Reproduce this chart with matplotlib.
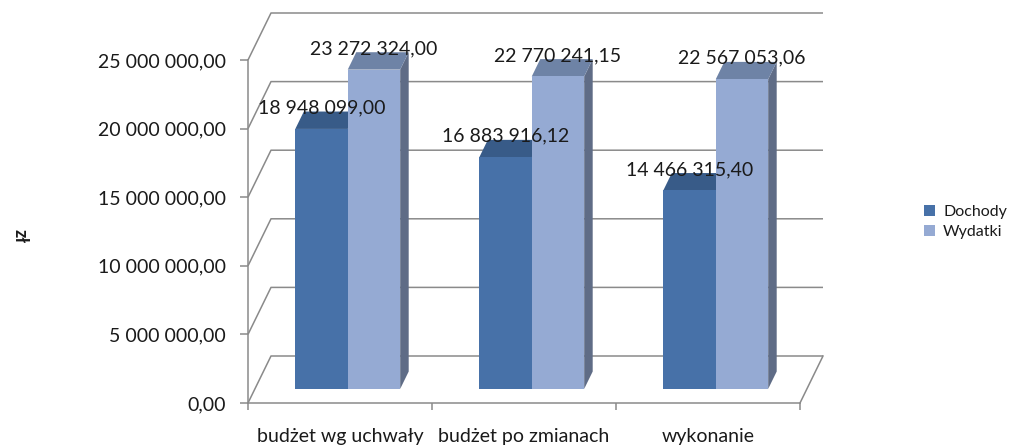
import matplotlib
matplotlib.use("Agg")
import matplotlib.pyplot as plt
from matplotlib.patches import Polygon, Patch

plt.rcParams['font.family'] = ['Lato', 'DejaVu Sans']

categories = ["budżet wg uchwały", "budżet po zmianach", "wykonanie"]
dochody = [18948099.00, 16883916.12, 14466315.40]
wydatki = [23272324.00, 22770241.15, 22567053.06]
series_names = ["Dochody", "Wydatki"]
yticks = [0, 5e6, 10e6, 15e6, 20e6, 25e6]
ytick_labels = ["0,00", "5 000 000,00", "10 000 000,00", "15 000 000,00",
                "20 000 000,00", "25 000 000,00"]
data_labels_d = ["18 948 099,00", "16 883 916,12", "14 466 315,40"]
data_labels_w = ["23 272 324,00", "22 770 241,15", "22 567 053,06"]

W, H = 1016, 445
fig = plt.figure(figsize=(W / 100, H / 100), dpi=100)
ax = fig.add_axes([248 / W, (H - 403) / H, (800 - 248) / W, (403 - 60) / H])
ax.set_xlim(0, 3)
ax.set_ylim(0, 25e6)

px_x = (800 - 248) / 3.0          # pixels per category unit
px_y = (403 - 60) / 25e6          # pixels per value unit
DX = 23 / px_x                    # full depth shift in x (data)
DY = 47 / px_y                    # full depth shift in y (data)

grid_c = "#8a8a8a"
lw = 1.1
txt_c = "#1a1a1a"
fs = 14

# walls / gridlines
for v in yticks:
    ax.plot([0, DX, 3 + DX], [v, v + DY, v + DY], color=grid_c, lw=lw,
            clip_on=False, zorder=1, solid_capstyle='butt')
# floor right edge
ax.plot([3, 3 + DX], [0, DY], color=grid_c, lw=lw, clip_on=False, zorder=1)

tf, tb = 0.30, 0.67
bw = 0.285
start = 0.2196

colors = {
    "Dochody": dict(front="#4771a8", top="#385b88", side="#34507a"),
    "Wydatki": dict(front="#95aad3", top="#6e83a6", side="#5f6c86"),
}

def draw_bar(x0, v, c):
    xf, yf = x0 + tf * DX, tf * DY
    xb, yb = x0 + tb * DX, tb * DY
    side = Polygon([(xf + bw, yf), (xf + bw, yf + v), (xb + bw, yb + v), (xb + bw, yb)],
                   closed=True, facecolor=c["side"], edgecolor='none', zorder=3, clip_on=False)
    top = Polygon([(xf, yf + v), (xf + bw, yf + v), (xb + bw, yb + v), (xb, yb + v)],
                  closed=True, facecolor=c["top"], edgecolor='none', zorder=3, clip_on=False)
    ax.add_patch(side)
    ax.add_patch(top)
    ax.bar([xf], [v], width=bw, bottom=yf, align='edge', color=c["front"],
           edgecolor='none', zorder=3, clip_on=False)
    return xf + bw / 2, yf + v

for i in range(3):
    x0 = i + start
    cx, cy = draw_bar(x0, dochody[i], colors["Dochody"])
    ax.annotate(data_labels_d[i], (cx, cy), xytext=(0, 21), textcoords='offset pixels',
                ha='center', va='center', fontsize=fs, color=txt_c, zorder=5,
                annotation_clip=False)
    cx, cy = draw_bar(x0 + bw, wydatki[i], colors["Wydatki"])
    ax.annotate(data_labels_w[i], (cx, cy), xytext=(0, 21), textcoords='offset pixels',
                ha='center', va='center', fontsize=fs, color=txt_c, zorder=5,
                annotation_clip=False)

# axes styling
for s in ["top", "right"]:
    ax.spines[s].set_visible(False)
for s in ["left", "bottom"]:
    ax.spines[s].set_color(grid_c)
    ax.spines[s].set_linewidth(lw)
    ax.spines[s].set_zorder(2)
ax.set_facecolor('none')
ax.set_yticks(yticks)
ax.set_yticklabels(ytick_labels)
ax.tick_params(axis='y', length=6, width=lw, color=grid_c, pad=10, labelsize=fs,
               labelcolor=txt_c)
ax.set_xticks([0, 1, 2, 3])
ax.set_xticklabels([])
ax.tick_params(axis='x', length=5, width=lw, color=grid_c)

yb_frac = (403 - 442) / (403 - 60)
for i, cat in enumerate(categories):
    ax.text(i + 0.5, yb_frac, cat, transform=ax.get_xaxis_transform(),
            ha='center', va='baseline', fontsize=fs, color=txt_c)

fig.text(20 / W, 1 - 236 / H, "zł", rotation=270, ha='center', va='center',
         fontsize=13, fontweight='bold', color=txt_c)

handles = [Patch(facecolor=colors[n]["front"], edgecolor='none') for n in series_names]
fig.legend(handles, series_names, loc='center left',
           bbox_to_anchor=(924 / W, 1 - 222 / H), frameon=False,
           handlelength=0.7, handleheight=0.7, handletextpad=0.5,
           labelspacing=0.4, borderpad=0, borderaxespad=0, fontsize=11.5,
           labelcolor=txt_c)

fig.savefig("out.png", dpi=100)
